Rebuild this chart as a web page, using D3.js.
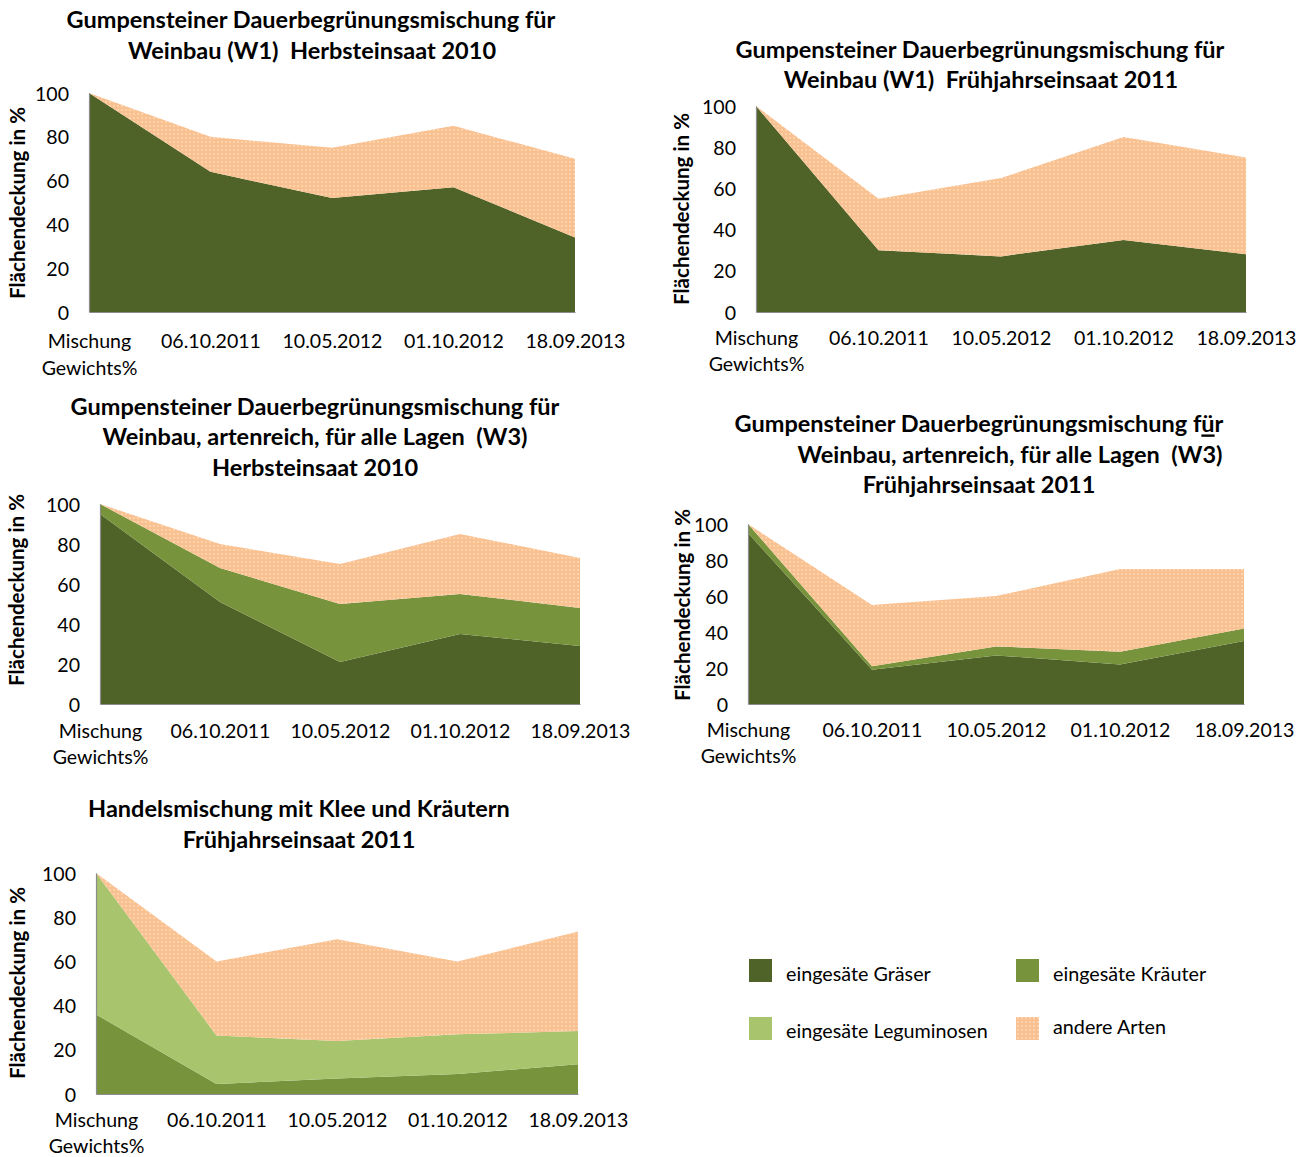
<!DOCTYPE html>
<html lang="de">
<head>
<meta charset="utf-8">
<title>Flächendeckung der Begrünungsmischungen</title>
<script src="https://cdn.jsdelivr.net/npm/d3@7/dist/d3.min.js"></script>
<style>
  html, body { margin: 0; padding: 0; background: #ffffff; }
  svg { display: block; }
  text { font-family: Lato, "Open Sans", "Noto Sans", sans-serif; fill: #000; }
</style>
</head>
<body>
<script>
// ---- data -------------------------------------------------------------
const categories = ["Mischung Gewichts%", "06.10.2011", "10.05.2012", "01.10.2012", "18.09.2013"];
const yTicks = [0, 20, 40, 60, 80, 100];

// W1, Herbsteinsaat 2010
const w1HerbstGraeser = [100, 64, 52, 57, 34];
const w1HerbstAndere  = [0, 16, 23, 28, 36];

// W1, Frühjahrseinsaat 2011
const w1FruehGraeser = [100, 30, 27, 35, 28];
const w1FruehAndere  = [0, 25, 38, 50, 47];

// W3, Herbsteinsaat 2010
const w3HerbstGraeser  = [95, 51, 21, 35, 29];
const w3HerbstKraeuter = [5, 17, 29, 20, 19];
const w3HerbstAndere   = [0, 12, 20, 30, 25];

// W3, Frühjahrseinsaat 2011
const w3FruehGraeser  = [95, 19, 27, 22, 35];
const w3FruehKraeuter = [5, 2, 5, 7, 7];
const w3FruehAndere   = [0, 34, 28, 46, 33];

// Handelsmischung, Frühjahrseinsaat 2011
const handelKraeuter     = [36, 4.5, 7, 9, 13.5];
const handelLeguminosen  = [64, 22, 17, 18, 15];
const handelAndere       = [0, 33.5, 46, 33, 45];

const legendLabels = {
  graeser: "eingesäte Gräser",
  kraeuter: "eingesäte Kräuter",
  legum: "eingesäte Leguminosen",
  andere: "andere Arten"
};

// ---- styles -----------------------------------------------------------
const fills = {
  graeser: "#4F6228",
  kraeuter: "#77933C",
  legum: "#A8C46C",
  andere: "url(#dots)"
};
const axisGrey = "#8C8C8C";

// ---- chart layout -----------------------------------------------------
const charts = [
  {
    series: [["graeser", w1HerbstGraeser], ["andere", w1HerbstAndere]],
    box: { l: 89, r: 575, t: 93, b: 312 },
    title: [
      { x: 311, y: 20, parts: [["Gumpensteiner Dauerbegrünungsmischung für"]] },
      { x: 312, y: 51, parts: [["Weinbau (W1)  Herbsteinsaat 2010"]] }
    ],
    xl1: 341, xl2: 368, yt: { x: 18, y: 203 }
  },
  {
    series: [["graeser", w1FruehGraeser], ["andere", w1FruehAndere]],
    box: { l: 756, r: 1246, t: 106, b: 312 },
    title: [
      { x: 980, y: 50, parts: [["Gumpensteiner Dauerbegrünungsmischung für"]] },
      { x: 981, y: 80, parts: [["Weinbau (W1)  Frühjahrseinsaat 2011"]] }
    ],
    xl1: 338, xl2: 364, yt: { x: 682, y: 209 }
  },
  {
    series: [["graeser", w3HerbstGraeser], ["kraeuter", w3HerbstKraeuter], ["andere", w3HerbstAndere]],
    box: { l: 100, r: 580, t: 504, b: 704 },
    title: [
      { x: 315, y: 407, parts: [["Gumpensteiner Dauerbegrünungsmischung für"]] },
      { x: 315, y: 437, parts: [["Weinbau, artenreich, für alle Lagen  (W3)"]] },
      { x: 315, y: 468, parts: [["Herbsteinsaat 2010"]] }
    ],
    xl1: 731, xl2: 757, yt: { x: 17, y: 590 }
  },
  {
    series: [["graeser", w3FruehGraeser], ["kraeuter", w3FruehKraeuter], ["andere", w3FruehAndere]],
    box: { l: 748, r: 1244, t: 524, b: 704 },
    title: [
      { x: 979, y: 424, parts: [["Gumpensteiner Dauerbegrünungsmischung f"], ["ü", true], ["r"]] },
      { x: 1010, y: 455, parts: [["Weinbau, artenreich, für alle Lagen  (W3)"]] },
      { x: 979, y: 485, parts: [["Frühjahrseinsaat 2011"]] }
    ],
    xl1: 730, xl2: 756, yt: { x: 683, y: 605 }
  },
  {
    series: [["kraeuter", handelKraeuter], ["legum", handelLeguminosen], ["andere", handelAndere]],
    box: { l: 96, r: 578, t: 873, b: 1094 },
    title: [
      { x: 299, y: 809, parts: [["Handelsmischung mit Klee und Kräutern"]] },
      { x: 299, y: 840, parts: [["Frühjahrseinsaat 2011"]] }
    ],
    xl1: 1120, xl2: 1146, yt: { x: 18, y: 983 }
  }
];

const legendItems = [
  { key: "graeser", x: 749, y: 959, ty: 974 },
  { key: "kraeuter", x: 1016, y: 959, ty: 974 },
  { key: "legum", x: 749, y: 1017, ty: 1031 },
  { key: "andere", x: 1016, y: 1017, ty: 1027 }
];

// ---- drawing ----------------------------------------------------------
const svg = d3.select("body").append("svg")
  .attr("width", 1307).attr("height", 1157);

// dotted peach fill for "andere Arten"
const defs = svg.append("defs");
const pat = defs.append("pattern")
  .attr("id", "dots").attr("patternUnits", "userSpaceOnUse")
  .attr("width", 4).attr("height", 4);
pat.append("rect").attr("width", 4).attr("height", 4).attr("fill", "#F9C090");
pat.append("rect").attr("x", 1).attr("y", 1).attr("width", 2).attr("height", 2).attr("fill", "#FCD3AE");

// pick a font size so a reference string spans a given width
function fitSize(str, weight, width) {
  const t = svg.append("text").attr("font-size", 100).attr("font-weight", weight).text(str);
  const w = t.node().getComputedTextLength();
  t.remove();
  return 100 * width / w;
}
const titleSize = fitSize("Gumpensteiner Dauerbegrünungsmischung für", 700, 489);
const tickSize = fitSize("06.10.2011", 400, 100);
const yTitleSize = fitSize("Flächendeckung in %", 700, 192);
const legendSize = fitSize("eingesäte Leguminosen", 400, 202);

charts.forEach(ch => {
  const { l, r, t, b } = ch.box;
  const g = svg.append("g");

  const x = d3.scalePoint().domain(categories).range([l, r]).padding(0);
  const y = d3.scaleLinear().domain([0, 100]).range([b, t]);

  const keys = ch.series.map(s => s[0]);
  const rows = categories.map((c, i) => {
    const row = { cat: c };
    ch.series.forEach(([k, vals]) => { row[k] = vals[i]; });
    return row;
  });
  const layers = d3.stack().keys(keys)(rows);

  const area = d3.area()
    .x(d => x(d.data.cat))
    .y0(d => y(d[0]))
    .y1(d => y(d[1]));

  g.selectAll("path.layer").data(layers).join("path")
    .attr("class", "layer")
    .attr("d", area)
    .attr("fill", d => fills[d.key]);

  // y axis
  const yAxis = g.append("g").attr("transform", `translate(${l},0)`)
    .call(d3.axisLeft(y).tickValues(yTicks).tickSize(0).tickSizeOuter(0).tickPadding(20));
  yAxis.select(".domain").attr("stroke", axisGrey).attr("stroke-width", 1.2);
  yAxis.selectAll("text")
    .attr("font-size", tickSize).attr("font-family", null)
    .attr("fill", "#000").attr("dy", "0.36em");

  // x axis
  const xAxis = g.append("g").attr("transform", `translate(0,${b})`)
    .call(d3.axisBottom(x).tickSize(0).tickSizeOuter(0).tickFormat(d => d.split(" ")[0]));
  xAxis.select(".domain").attr("stroke", axisGrey).attr("stroke-width", 1.2);
  xAxis.selectAll(".tick text")
    .attr("font-size", tickSize).attr("font-family", null).attr("fill", "#000")
    .attr("y", ch.xl1 - b).attr("dy", "0.36em");
  xAxis.selectAll(".tick").each(function (d) {
    const words = d.split(" ");
    if (words.length > 1) {
      d3.select(this).append("text")
        .attr("text-anchor", "middle")
        .attr("font-size", tickSize).attr("fill", "#000")
        .attr("y", ch.xl2 - b).attr("dy", "0.36em")
        .text(words.slice(1).join(" "));
    }
  });

  // y axis title
  g.append("text")
    .attr("transform", `translate(${ch.yt.x},${ch.yt.y}) rotate(-90)`)
    .attr("text-anchor", "middle").attr("dy", "0.36em")
    .attr("font-weight", 700).attr("font-size", yTitleSize)
    .text("Flächendeckung in %");

  // chart title
  ch.title.forEach(line => {
    const tx = g.append("text")
      .attr("x", line.x).attr("y", line.y).attr("dy", "0.36em")
      .attr("text-anchor", "middle")
      .attr("font-weight", 700).attr("font-size", titleSize)
      .style("white-space", "pre").attr("xml:space", "preserve");
    line.parts.forEach(([s, under]) => {
      const ts = tx.append("tspan").text(s);
      if (under) ts.attr("text-decoration", "underline");
    });
  });
});

// legend
const lg = svg.append("g");
legendItems.forEach(it => {
  lg.append("rect").attr("x", it.x).attr("y", it.y)
    .attr("width", 23).attr("height", 23).attr("fill", fills[it.key]);
  lg.append("text").attr("x", it.x + 37).attr("y", it.ty).attr("dy", "0.36em")
    .attr("font-size", legendSize).attr("fill", "#262626")
    .text(legendLabels[it.key]);
});
</script>
</body>
</html>
